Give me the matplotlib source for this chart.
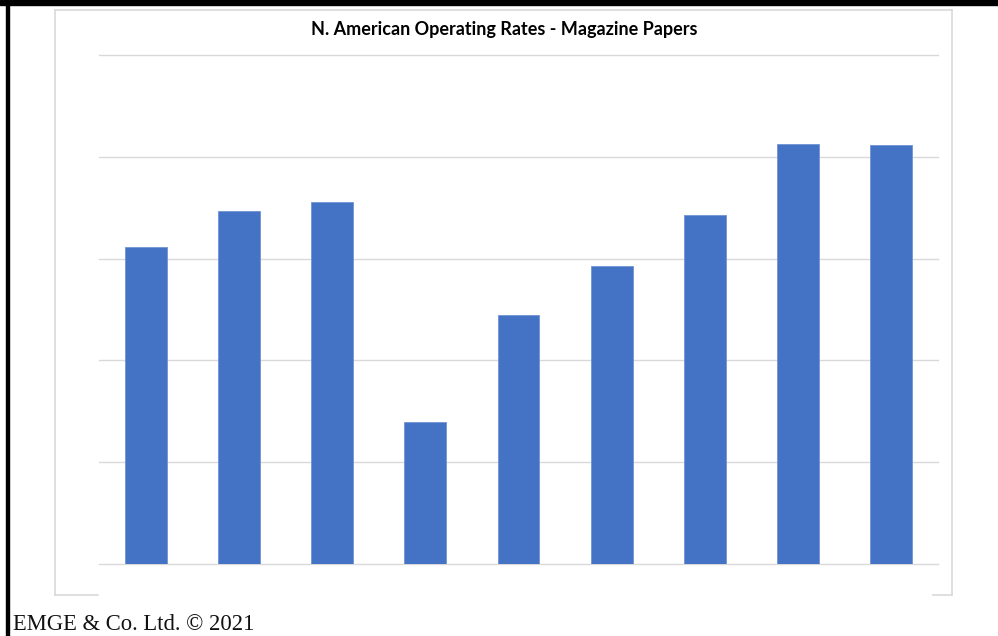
import matplotlib.pyplot as plt
from matplotlib.patches import Rectangle
from matplotlib.lines import Line2D
import numpy as np

# operating rate per period (%), nine bars
rates = [81.1, 84.7, 85.6, 63.9, 74.5, 79.3, 84.3, 91.3, 91.2]
y_min, y_max, y_step = 50, 100, 10

title = "N. American Operating Rates - Magazine Papers"
footer = "EMGE & Co. Ltd. \u00a9 2021"

W, H = 998, 636
fig = plt.figure(figsize=(W / 100, H / 100), dpi=100)


def fx(px):
    return px / W


def fy(py):
    return 1 - py / H


# plot area
ax = fig.add_axes([fx(99), fy(564), fx(938) - fx(99), fy(55) - fy(564)])
xs = np.arange(len(rates))
ax.bar(xs, np.array(rates) - y_min, bottom=y_min, width=0.45,
       color="#4472C4", edgecolor="#6f93d3", linewidth=0.6, zorder=3)
ax.set_xlim(-0.5, len(rates) - 0.5)
ax.set_ylim(y_min, y_max)
ax.set_yticks(np.arange(y_min, y_max + 1, y_step))
ax.grid(axis="y", color="#d9d9d9", linewidth=1.0)
for gl in ax.get_ygridlines():
    gl.set_clip_on(False)
ax.tick_params(left=False, bottom=False, labelleft=False, labelbottom=False)
for s in ax.spines.values():
    s.set_visible(False)

# chart frame (bottom edge only shows at the corners)
gray = "#d9d9d9"
frame = [
    ([55, 55], [10, 595]),
    ([55, 952], [10, 10]),
    ([952, 952], [10, 595]),
    ([55, 98], [595, 595]),
    ([933, 952], [595, 595]),
]
for px, py in frame:
    fig.add_artist(Line2D([fx(p) for p in px], [fy(p) for p in py],
                          color=gray, linewidth=1.2, transform=fig.transFigure))

# black page border
fig.add_artist(Rectangle((0, fy(5)), 1, fy(0) - fy(5), color="black",
                         transform=fig.transFigure, zorder=10))
fig.add_artist(Rectangle((fx(6), 0), fx(8.5) - fx(6), 1, color="black",
                         transform=fig.transFigure, zorder=10))

fig.text(fx(504), fy(30), title, ha="center", va="center",
         fontsize=13, fontweight="bold", family=["Lato", "DejaVu Sans"])
fig.text(fx(13), fy(624), footer, ha="left", va="center",
         fontsize=16.3, family=["Liberation Serif", "DejaVu Serif"], color="#111111")

fig.savefig("out.png", dpi=100)
